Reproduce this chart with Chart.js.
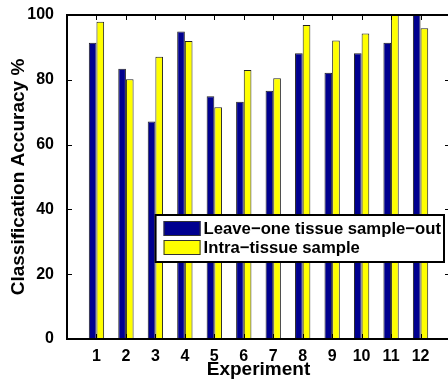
<!DOCTYPE html>
<html>
<head>
<meta charset="utf-8">
<script src="https://cdn.jsdelivr.net/npm/chart.js@4.4.1/dist/chart.umd.min.js"></script>
<style>
  html, body { margin: 0; padding: 0; background: #fff; overflow: hidden; }
  #wrap { position: relative; width: 452px; height: 381px; }
</style>
</head>
<body>
<div id="wrap"><canvas id="chart"></canvas></div>
<script>
const experiments = [1, 2, 3, 4, 5, 6, 7, 8, 9, 10, 11, 12];
const leaveOneOut = [91.4, 83.4, 67.1, 94.9, 74.9, 73.2, 76.6, 88.2, 82.2, 88.2, 91.4, 100];
const intraTissue = [97.9, 80.2, 87.1, 92.0, 71.5, 83.0, 80.5, 96.9, 92.1, 94.3, 100, 95.9];
const seriesNames = ["Leave\u2212one tissue sample\u2212out", "Intra\u2212tissue sample"];
const yTicks = [0, 20, 40, 60, 80, 100];

const FONT = "'Liberation Sans', Arial, Helvetica, sans-serif";

const toPoints = vals => experiments.map((x, i) => ({ x: x, y: vals[i] }));

// box + inward ticks, like the matlab axes
const framePlugin = {
  id: "frame",
  afterDatasetsDraw(chart) {
    const ctx = chart.ctx;
    const a = chart.chartArea;
    const xs = chart.scales.x;
    const ys = chart.scales.y;
    ctx.save();
    ctx.strokeStyle = "#000";
    ctx.lineWidth = 1;
    yTicks.slice(1, -1).forEach(v => {
      const py = Math.round(ys.getPixelForValue(v)) + 0.5;
      ctx.beginPath();
      ctx.moveTo(a.left, py); ctx.lineTo(a.left + 5, py);
      ctx.moveTo(a.right, py); ctx.lineTo(a.right - 5, py);
      ctx.stroke();
    });
    experiments.forEach(v => {
      const px = Math.round(xs.getPixelForValue(v)) + 0.5;
      ctx.beginPath();
      ctx.moveTo(px, a.top); ctx.lineTo(px, a.top + 5);
      ctx.moveTo(px, a.bottom); ctx.lineTo(px, a.bottom - 5);
      ctx.stroke();
    });
    ctx.lineWidth = 2;
    ctx.strokeRect(a.left, a.top, a.right - a.left, a.bottom - a.top);
    ctx.restore();
  }
};

// legend box sitting inside the plot
const boxLegend = {
  id: "boxLegend",
  afterDraw(chart) {
    const ctx = chart.ctx;
    const a = chart.chartArea;
    ctx.save();
    ctx.font = "bold 16.7px " + FONT;
    const textW = Math.max(...chart.data.datasets.map(d => ctx.measureText(d.label).width));
    const right = a.right - 6;
    const top = 215;
    const w = 8 + 37 + 3 + textW + 3;
    const h = 47;
    const left = right - w;
    ctx.fillStyle = "#fff";
    ctx.fillRect(left, top, w, h);
    ctx.strokeStyle = "#000";
    ctx.lineWidth = 2;
    ctx.strokeRect(left, top, w, h);
    chart.data.datasets.forEach((d, i) => {
      const y = top + 6 + i * 19;
      ctx.fillStyle = d.backgroundColor;
      ctx.fillRect(left + 8, y, 37, 15);
      ctx.lineWidth = 1;
      ctx.strokeStyle = "#333";
      ctx.strokeRect(left + 8.5, y + 0.5, 36, 14);
      ctx.fillStyle = "#000";
      ctx.textBaseline = "middle";
      ctx.textAlign = "left";
      ctx.fillText(d.label, left + 48, y + 8);
    });
    ctx.restore();
  }
};

new Chart(document.getElementById("chart"), {
  type: "bar",
  plugins: [framePlugin, boxLegend],
  data: {
    datasets: [
      {
        label: seriesNames[0],
        data: toPoints(leaveOneOut),
        backgroundColor: "#00008f",
        borderColor: "#222",
        borderWidth: 1,
        categoryPercentage: 0.52,
        barPercentage: 1.0
      },
      {
        label: seriesNames[1],
        data: toPoints(intraTissue),
        backgroundColor: "#ffff00",
        borderColor: "#222",
        borderWidth: 1,
        categoryPercentage: 0.52,
        barPercentage: 1.0
      }
    ]
  },
  options: {
    animation: false,
    responsive: true,
    maintainAspectRatio: false,
    layout: { padding: { top: 15, right: 2, left: 0, bottom: 0 } },
    plugins: {
      legend: { display: false },
      tooltip: { enabled: false }
    },
    scales: {
      x: {
        type: "linear",
        offset: false,
        min: 0,
        max: 13,
        afterFit: s => { s.height = 42; },
        grid: { display: false },
        border: { display: false },
        ticks: {
          stepSize: 1,
          autoSkip: false,
          maxRotation: 0,
          padding: 0,
          color: "#000",
          font: { family: FONT, size: 16, weight: "bold" },
          callback: v => (v >= 1 && v <= 12 ? String(v) : "")
        },
        title: {
          display: true,
          text: "Experiment",
          color: "#000",
          padding: { top: 0, bottom: 0 },
          font: { family: FONT, size: 19, weight: "bold" }
        }
      },
      y: {
        min: 0,
        max: 100,
        afterFit: s => { s.width = 67; },
        grid: { display: false },
        border: { display: false },
        ticks: {
          stepSize: 20,
          padding: 5,
          color: "#000",
          font: { family: FONT, size: 16, weight: "bold" }
        },
        title: {
          display: true,
          text: "Classification Accuracy %",
          color: "#000",
          padding: { top: 7, bottom: 0 },
          font: { family: FONT, size: 19, weight: "bold" }
        }
      }
    }
  }
});
</script>
</body>
</html>
